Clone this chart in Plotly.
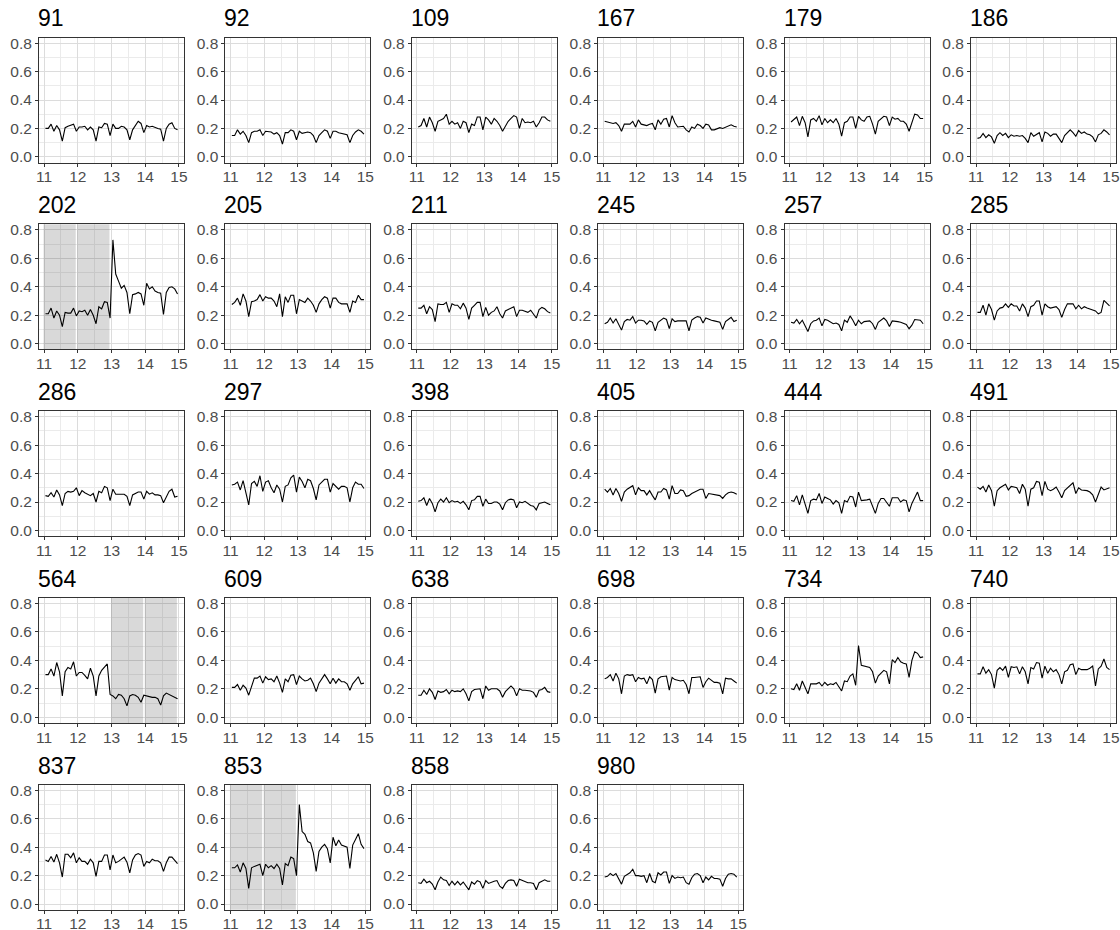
import plotly.graph_objects as go

# ---- data -------------------------------------------------------------
years = [11, 12, 13, 14]
months = list(range(1, 13))
x_ticks = [11, 12, 13, 14, 15]
y_ticks = [0.0, 0.2, 0.4, 0.6, 0.8]

labels = ["91", "92", "109", "167", "179", "186",
          "202", "205", "211", "245", "257", "285",
          "286", "297", "398", "405", "444", "491",
          "564", "609", "638", "698", "734", "740",
          "837", "853", "858", "980"]

s91 = [0.20, 0.20, 0.23, 0.18, 0.22, 0.19, 0.11, 0.205, 0.215, 0.22, 0.23, 0.18,
       0.21, 0.21, 0.215, 0.19, 0.21, 0.19, 0.11, 0.21, 0.205, 0.235, 0.23, 0.15,
       0.23, 0.20, 0.20, 0.215, 0.21, 0.19, 0.12, 0.19, 0.22, 0.25, 0.235, 0.17,
       0.22, 0.21, 0.215, 0.205, 0.20, 0.195, 0.11, 0.20, 0.23, 0.24, 0.20, 0.19]
s92 = [0.15, 0.15, 0.19, 0.16, 0.18, 0.15, 0.10, 0.17, 0.18, 0.18, 0.19, 0.15,
       0.18, 0.175, 0.175, 0.16, 0.17, 0.15, 0.09, 0.17, 0.17, 0.19, 0.18, 0.12,
       0.18, 0.165, 0.17, 0.175, 0.17, 0.15, 0.10, 0.15, 0.17, 0.19, 0.18, 0.13,
       0.18, 0.18, 0.17, 0.165, 0.16, 0.155, 0.10, 0.15, 0.175, 0.19, 0.18, 0.16]
s109 = [0.21, 0.22, 0.27, 0.21, 0.28, 0.24, 0.18, 0.25, 0.26, 0.27, 0.30, 0.23,
        0.25, 0.23, 0.24, 0.20, 0.25, 0.24, 0.17, 0.23, 0.22, 0.28, 0.28, 0.19,
        0.28, 0.26, 0.23, 0.27, 0.25, 0.22, 0.18, 0.22, 0.25, 0.27, 0.29, 0.28,
        0.20, 0.27, 0.24, 0.245, 0.24, 0.25, 0.21, 0.24, 0.28, 0.28, 0.26, 0.25]
s167 = [0.25, 0.245, 0.245, 0.235, 0.24, 0.22, 0.18, 0.23, 0.23, 0.23, 0.25, 0.21,
        0.26, 0.23, 0.225, 0.22, 0.23, 0.235, 0.19, 0.26, 0.23, 0.265, 0.27, 0.21,
        0.29, 0.24, 0.21, 0.21, 0.215, 0.19, 0.175, 0.21, 0.20, 0.23, 0.22, 0.20,
        0.23, 0.225, 0.19, 0.19, 0.20, 0.205, 0.20, 0.21, 0.215, 0.225, 0.215, 0.21]
s179 = [0.245, 0.26, 0.28, 0.22, 0.285, 0.24, 0.14, 0.26, 0.27, 0.25, 0.29, 0.225,
        0.27, 0.24, 0.26, 0.24, 0.27, 0.23, 0.145, 0.24, 0.25, 0.28, 0.28, 0.20,
        0.285, 0.26, 0.25, 0.28, 0.285, 0.23, 0.16, 0.25, 0.27, 0.285, 0.28, 0.22,
        0.28, 0.265, 0.27, 0.25, 0.25, 0.23, 0.18, 0.24, 0.30, 0.295, 0.27, 0.27]
s186 = [0.13, 0.135, 0.165, 0.135, 0.155, 0.14, 0.095, 0.15, 0.17, 0.15, 0.165, 0.135,
        0.155, 0.145, 0.15, 0.145, 0.15, 0.13, 0.10, 0.17, 0.145, 0.16, 0.17, 0.105,
        0.175, 0.165, 0.145, 0.16, 0.16, 0.13, 0.10, 0.15, 0.17, 0.19, 0.17, 0.145,
        0.185, 0.165, 0.175, 0.16, 0.155, 0.14, 0.105, 0.155, 0.165, 0.19, 0.175, 0.155]
s202 = [0.21, 0.21, 0.25, 0.18, 0.23, 0.20, 0.12, 0.22, 0.215, 0.215, 0.25, 0.195,
        0.23, 0.225, 0.235, 0.20, 0.24, 0.20, 0.14, 0.26, 0.245, 0.295, 0.29, 0.18,
        0.73, 0.49, 0.44, 0.39, 0.41, 0.36, 0.21, 0.345, 0.35, 0.36, 0.35, 0.27,
        0.425, 0.385, 0.40, 0.37, 0.36, 0.355, 0.205, 0.36, 0.395, 0.40, 0.385, 0.35]
s205 = [0.275, 0.29, 0.32, 0.27, 0.35, 0.30, 0.19, 0.295, 0.30, 0.31, 0.345, 0.30,
        0.33, 0.32, 0.32, 0.30, 0.26, 0.35, 0.19, 0.33, 0.29, 0.34, 0.34, 0.21,
        0.31, 0.30, 0.29, 0.32, 0.30, 0.27, 0.22, 0.28, 0.31, 0.33, 0.32, 0.25,
        0.32, 0.32, 0.29, 0.28, 0.28, 0.28, 0.22, 0.30, 0.29, 0.34, 0.31, 0.31]
s211 = [0.25, 0.25, 0.27, 0.21, 0.26, 0.24, 0.155, 0.28, 0.275, 0.275, 0.29, 0.22,
        0.28, 0.27, 0.27, 0.245, 0.285, 0.25, 0.17, 0.25, 0.27, 0.29, 0.29, 0.19,
        0.255, 0.20, 0.22, 0.23, 0.26, 0.21, 0.18, 0.23, 0.24, 0.25, 0.26, 0.19,
        0.235, 0.235, 0.23, 0.22, 0.235, 0.21, 0.18, 0.24, 0.255, 0.245, 0.225, 0.215]
s245 = [0.14, 0.15, 0.18, 0.145, 0.175, 0.14, 0.095, 0.155, 0.17, 0.165, 0.19, 0.145,
        0.165, 0.165, 0.16, 0.135, 0.16, 0.15, 0.09, 0.15, 0.165, 0.18, 0.17, 0.105,
        0.175, 0.155, 0.16, 0.16, 0.16, 0.16, 0.09, 0.165, 0.18, 0.19, 0.185, 0.145,
        0.18, 0.17, 0.165, 0.16, 0.155, 0.15, 0.10, 0.155, 0.17, 0.185, 0.155, 0.165]
s257 = [0.15, 0.145, 0.17, 0.14, 0.165, 0.13, 0.085, 0.14, 0.16, 0.165, 0.18, 0.125,
        0.17, 0.165, 0.155, 0.14, 0.145, 0.135, 0.09, 0.165, 0.15, 0.195, 0.165, 0.125,
        0.165, 0.14, 0.155, 0.16, 0.16, 0.14, 0.10, 0.15, 0.165, 0.18, 0.16, 0.12,
        0.16, 0.16, 0.155, 0.15, 0.145, 0.135, 0.105, 0.13, 0.17, 0.17, 0.165, 0.14]
s285 = [0.22, 0.22, 0.27, 0.20, 0.28, 0.24, 0.165, 0.23, 0.25, 0.255, 0.28, 0.255,
        0.28, 0.265, 0.265, 0.23, 0.28, 0.25, 0.19, 0.26, 0.27, 0.30, 0.30, 0.20,
        0.28, 0.26, 0.25, 0.255, 0.26, 0.24, 0.185, 0.24, 0.28, 0.28, 0.28, 0.245,
        0.27, 0.245, 0.26, 0.25, 0.245, 0.24, 0.23, 0.21, 0.22, 0.305, 0.285, 0.265]
s286 = [0.245, 0.24, 0.265, 0.235, 0.285, 0.25, 0.175, 0.26, 0.275, 0.27, 0.275, 0.30,
        0.245, 0.28, 0.265, 0.255, 0.245, 0.26, 0.20, 0.275, 0.265, 0.31, 0.30, 0.21,
        0.29, 0.255, 0.255, 0.255, 0.255, 0.24, 0.175, 0.25, 0.26, 0.27, 0.27, 0.22,
        0.275, 0.255, 0.265, 0.25, 0.25, 0.245, 0.195, 0.24, 0.275, 0.29, 0.235, 0.24]
s297 = [0.32, 0.325, 0.34, 0.285, 0.35, 0.27, 0.18, 0.33, 0.345, 0.31, 0.385, 0.275,
        0.34, 0.35, 0.30, 0.265, 0.32, 0.29, 0.20, 0.31, 0.32, 0.37, 0.39, 0.27,
        0.375, 0.345, 0.30, 0.36, 0.35, 0.295, 0.215, 0.32, 0.34, 0.36, 0.36, 0.27,
        0.33, 0.31, 0.29, 0.31, 0.31, 0.30, 0.20, 0.30, 0.34, 0.325, 0.325, 0.295]
s398 = [0.205, 0.21, 0.23, 0.175, 0.225, 0.19, 0.13, 0.195, 0.22, 0.20, 0.23, 0.195,
        0.21, 0.20, 0.205, 0.19, 0.205, 0.18, 0.145, 0.21, 0.215, 0.24, 0.24, 0.17,
        0.22, 0.19, 0.19, 0.20, 0.20, 0.185, 0.145, 0.195, 0.215, 0.22, 0.215, 0.16,
        0.20, 0.195, 0.205, 0.19, 0.175, 0.17, 0.145, 0.19, 0.195, 0.20, 0.19, 0.18]
s405 = [0.29, 0.27, 0.295, 0.25, 0.295, 0.26, 0.205, 0.27, 0.29, 0.305, 0.315, 0.25,
        0.30, 0.28, 0.28, 0.25, 0.28, 0.245, 0.215, 0.27, 0.27, 0.295, 0.285, 0.22,
        0.315, 0.26, 0.26, 0.285, 0.28, 0.24, 0.245, 0.26, 0.27, 0.28, 0.29, 0.29,
        0.225, 0.26, 0.255, 0.25, 0.245, 0.245, 0.225, 0.25, 0.265, 0.27, 0.265, 0.255]
s444 = [0.21, 0.205, 0.245, 0.18, 0.25, 0.19, 0.12, 0.21, 0.22, 0.215, 0.26, 0.19,
        0.235, 0.225, 0.215, 0.185, 0.21, 0.195, 0.12, 0.21, 0.20, 0.24, 0.235, 0.165,
        0.27, 0.21, 0.21, 0.215, 0.22, 0.17, 0.12, 0.19, 0.225, 0.225, 0.20, 0.17,
        0.23, 0.23, 0.23, 0.20, 0.215, 0.21, 0.13, 0.19, 0.23, 0.27, 0.21, 0.21]
s491 = [0.305, 0.29, 0.31, 0.27, 0.32, 0.28, 0.17, 0.28, 0.30, 0.31, 0.325, 0.285,
        0.31, 0.305, 0.30, 0.26, 0.325, 0.29, 0.17, 0.29, 0.30, 0.345, 0.34, 0.245,
        0.345, 0.29, 0.28, 0.29, 0.305, 0.27, 0.23, 0.28, 0.30, 0.32, 0.335, 0.26,
        0.30, 0.285, 0.285, 0.28, 0.27, 0.25, 0.20, 0.25, 0.305, 0.285, 0.295, 0.30]
s564 = [0.30, 0.30, 0.34, 0.29, 0.385, 0.32, 0.15, 0.32, 0.35, 0.34, 0.39, 0.29,
        0.315, 0.315, 0.295, 0.27, 0.345, 0.29, 0.15, 0.29, 0.33, 0.355, 0.375, 0.16,
        0.15, 0.13, 0.16, 0.155, 0.13, 0.08, 0.15, 0.16, 0.155, 0.14, 0.105, 0.155,
        0.15, 0.14, 0.14, 0.14, 0.13, 0.085, 0.15, 0.17, 0.16, 0.15, 0.14, 0.13]
s609 = [0.21, 0.21, 0.23, 0.19, 0.225, 0.205, 0.155, 0.22, 0.275, 0.275, 0.29, 0.24,
        0.285, 0.265, 0.27, 0.25, 0.29, 0.24, 0.175, 0.27, 0.25, 0.295, 0.30, 0.23,
        0.29, 0.27, 0.255, 0.26, 0.275, 0.235, 0.18, 0.24, 0.275, 0.30, 0.27, 0.235,
        0.275, 0.24, 0.27, 0.25, 0.25, 0.235, 0.19, 0.235, 0.26, 0.285, 0.235, 0.24]
s638 = [0.155, 0.155, 0.19, 0.16, 0.20, 0.175, 0.125, 0.185, 0.175, 0.18, 0.195, 0.165,
        0.19, 0.18, 0.185, 0.18, 0.20, 0.165, 0.115, 0.18, 0.195, 0.20, 0.20, 0.13,
        0.22, 0.19, 0.20, 0.20, 0.20, 0.185, 0.14, 0.18, 0.20, 0.22, 0.20, 0.15,
        0.20, 0.19, 0.19, 0.19, 0.185, 0.175, 0.14, 0.19, 0.195, 0.21, 0.18, 0.175]
s698 = [0.27, 0.28, 0.30, 0.255, 0.31, 0.27, 0.165, 0.29, 0.30, 0.295, 0.30, 0.25,
        0.28, 0.27, 0.275, 0.235, 0.285, 0.265, 0.17, 0.27, 0.285, 0.29, 0.29, 0.19,
        0.28, 0.265, 0.26, 0.255, 0.26, 0.23, 0.165, 0.28, 0.28, 0.285, 0.285, 0.21,
        0.25, 0.275, 0.26, 0.245, 0.245, 0.24, 0.165, 0.275, 0.27, 0.27, 0.255, 0.24]
s734 = [0.20, 0.195, 0.235, 0.19, 0.255, 0.21, 0.165, 0.235, 0.235, 0.235, 0.245, 0.22,
        0.245, 0.225, 0.235, 0.23, 0.245, 0.21, 0.185, 0.255, 0.25, 0.29, 0.305, 0.225,
        0.505, 0.365, 0.36, 0.355, 0.35, 0.32, 0.24, 0.29, 0.31, 0.33, 0.32, 0.235,
        0.405, 0.385, 0.42, 0.39, 0.38, 0.375, 0.28, 0.40, 0.46, 0.45, 0.42, 0.425]
s740 = [0.305, 0.305, 0.355, 0.31, 0.335, 0.30, 0.205, 0.33, 0.35, 0.33, 0.36, 0.28,
        0.355, 0.35, 0.355, 0.305, 0.355, 0.32, 0.235, 0.35, 0.34, 0.385, 0.38, 0.275,
        0.36, 0.31, 0.345, 0.32, 0.335, 0.30, 0.235, 0.32, 0.33, 0.37, 0.375, 0.30,
        0.345, 0.335, 0.335, 0.335, 0.345, 0.36, 0.22, 0.34, 0.36, 0.41, 0.35, 0.335]
s837 = [0.31, 0.30, 0.335, 0.295, 0.35, 0.29, 0.19, 0.35, 0.35, 0.325, 0.36, 0.29,
        0.325, 0.30, 0.30, 0.28, 0.315, 0.29, 0.195, 0.30, 0.30, 0.345, 0.345, 0.24,
        0.345, 0.29, 0.30, 0.315, 0.33, 0.295, 0.22, 0.31, 0.345, 0.355, 0.345, 0.265,
        0.30, 0.29, 0.315, 0.305, 0.305, 0.29, 0.23, 0.29, 0.33, 0.33, 0.31, 0.285]
s853 = [0.255, 0.255, 0.275, 0.225, 0.29, 0.25, 0.11, 0.255, 0.265, 0.27, 0.28, 0.20,
        0.28, 0.255, 0.27, 0.25, 0.28, 0.25, 0.135, 0.285, 0.27, 0.33, 0.32, 0.20,
        0.70, 0.51, 0.49, 0.44, 0.43, 0.36, 0.23, 0.37, 0.40, 0.42, 0.39, 0.29,
        0.47, 0.41, 0.45, 0.415, 0.405, 0.40, 0.25, 0.415, 0.455, 0.495, 0.42, 0.39]
s858 = [0.15, 0.145, 0.175, 0.15, 0.16, 0.14, 0.10, 0.155, 0.19, 0.17, 0.165, 0.13,
        0.16, 0.135, 0.16, 0.135, 0.155, 0.13, 0.10, 0.155, 0.14, 0.165, 0.155, 0.11,
        0.165, 0.145, 0.155, 0.16, 0.165, 0.125, 0.11, 0.145, 0.165, 0.17, 0.165, 0.125,
        0.175, 0.165, 0.16, 0.15, 0.15, 0.145, 0.10, 0.15, 0.16, 0.17, 0.16, 0.16]
s980 = [0.19, 0.195, 0.215, 0.20, 0.215, 0.18, 0.14, 0.195, 0.205, 0.22, 0.245, 0.20,
        0.20, 0.195, 0.20, 0.15, 0.215, 0.16, 0.15, 0.22, 0.205, 0.225, 0.225, 0.145,
        0.20, 0.18, 0.19, 0.185, 0.19, 0.15, 0.14, 0.185, 0.21, 0.215, 0.20, 0.15,
        0.19, 0.17, 0.195, 0.18, 0.18, 0.175, 0.125, 0.18, 0.21, 0.215, 0.21, 0.19]

series = [s91, s92, s109, s167, s179, s186,
          s202, s205, s211, s245, s257, s285,
          s286, s297, s398, s405, s444, s491,
          s564, s609, s638, s698, s734, s740,
          s837, s853, s858, s980]

# highlighted years (grey bands) per panel label
shade_years = {"202": [11, 12], "564": [13, 14], "853": [11, 12]}

# time axis: mid-month positions in year units
x_time = [y + (m - 0.5) / 12 for y in years for m in months]

# ---- layout geometry ----------------------------------------------------
W, H = 1120, 930
NCOL = 6
P_LEFT, P_TOP = 39.0, 37.5
COL_STEP, ROW_STEP = 186.4, 186.8
P_W, P_H = 145.0, 125.0
X_RANGE = [10.85, 15.15]
Y_RANGE = [-0.04, 0.84]

FONT = "Liberation Sans, Arial, Helvetica, sans-serif"
GRID_MAJOR = "#DCDCDC"
GRID_MINOR = "#EBEBEB"
BORDER = "#333333"

fig = go.Figure()
annotations = []
shapes = []

for k, (lab, vals) in enumerate(zip(labels, series)):
    r, c = divmod(k, NCOL)
    left = P_LEFT + COL_STEP * c
    top = P_TOP + ROW_STEP * r
    xd = [left / W, (left + P_W) / W]
    yd = [1 - (top + P_H) / H, 1 - top / H]
    sfx = "" if k == 0 else str(k + 1)
    xa, ya = "x" + sfx, "y" + sfx

    fig.add_trace(go.Scatter(x=x_time, y=vals, mode="lines",
                             line=dict(color="black", width=1.1),
                             xaxis=xa, yaxis=ya, showlegend=False,
                             hoverinfo="skip"))

    common = dict(showline=True, mirror=True, linecolor=BORDER, linewidth=1,
                  ticks="outside", ticklen=3, tickcolor=BORDER, tickwidth=1,
                  tickfont=dict(family=FONT, size=15.5, color="#4D4D4D"),
                  showgrid=True, gridcolor=GRID_MAJOR, gridwidth=1,
                  zeroline=False, fixedrange=True, automargin=False,
                  ticklabeloverflow="allow")
    fig.layout["xaxis" + sfx] = dict(
        common, domain=xd, range=X_RANGE, anchor=ya,
        tickmode="array", tickvals=x_ticks, ticktext=[str(v) for v in x_ticks],
        ticklabelstandoff=-3,
        minor=dict(tickmode="array", tickvals=[11.5, 12.5, 13.5, 14.5],
                   showgrid=True, gridcolor=GRID_MINOR, gridwidth=1, ticks=""))
    fig.layout["yaxis" + sfx] = dict(
        common, domain=yd, range=Y_RANGE, anchor=xa,
        tickmode="array", tickvals=y_ticks,
        ticktext=["%.1f" % v for v in y_ticks],
        minor=dict(tickmode="array", tickvals=[0.1, 0.3, 0.5, 0.7],
                   showgrid=True, gridcolor=GRID_MINOR, gridwidth=1, ticks=""))

    for yr in shade_years.get(lab, []):
        shapes.append(dict(type="rect", xref=xa, yref="paper",
                           x0=yr - 0.015, x1=yr + 0.94, y0=yd[0], y1=yd[1],
                           fillcolor="rgba(0,0,0,0.15)", line=dict(width=0),
                           layer="above"))

    annotations.append(dict(text=lab, xref="paper", yref="paper",
                            x=xd[0], y=yd[1], xanchor="left", yanchor="bottom",
                            xshift=-3, yshift=4, showarrow=False,
                            font=dict(family=FONT, size=23, color="black")))

fig.update_layout(width=W, height=H, margin=dict(l=0, r=0, t=0, b=0),
                  paper_bgcolor="white", plot_bgcolor="white",
                  annotations=annotations, shapes=shapes, showlegend=False)

fig.write_html("out.html",
               config={"displayModeBar": False},
               post_script="document.body.style.margin='0px';"
                           "document.body.style.overflow='hidden';")
